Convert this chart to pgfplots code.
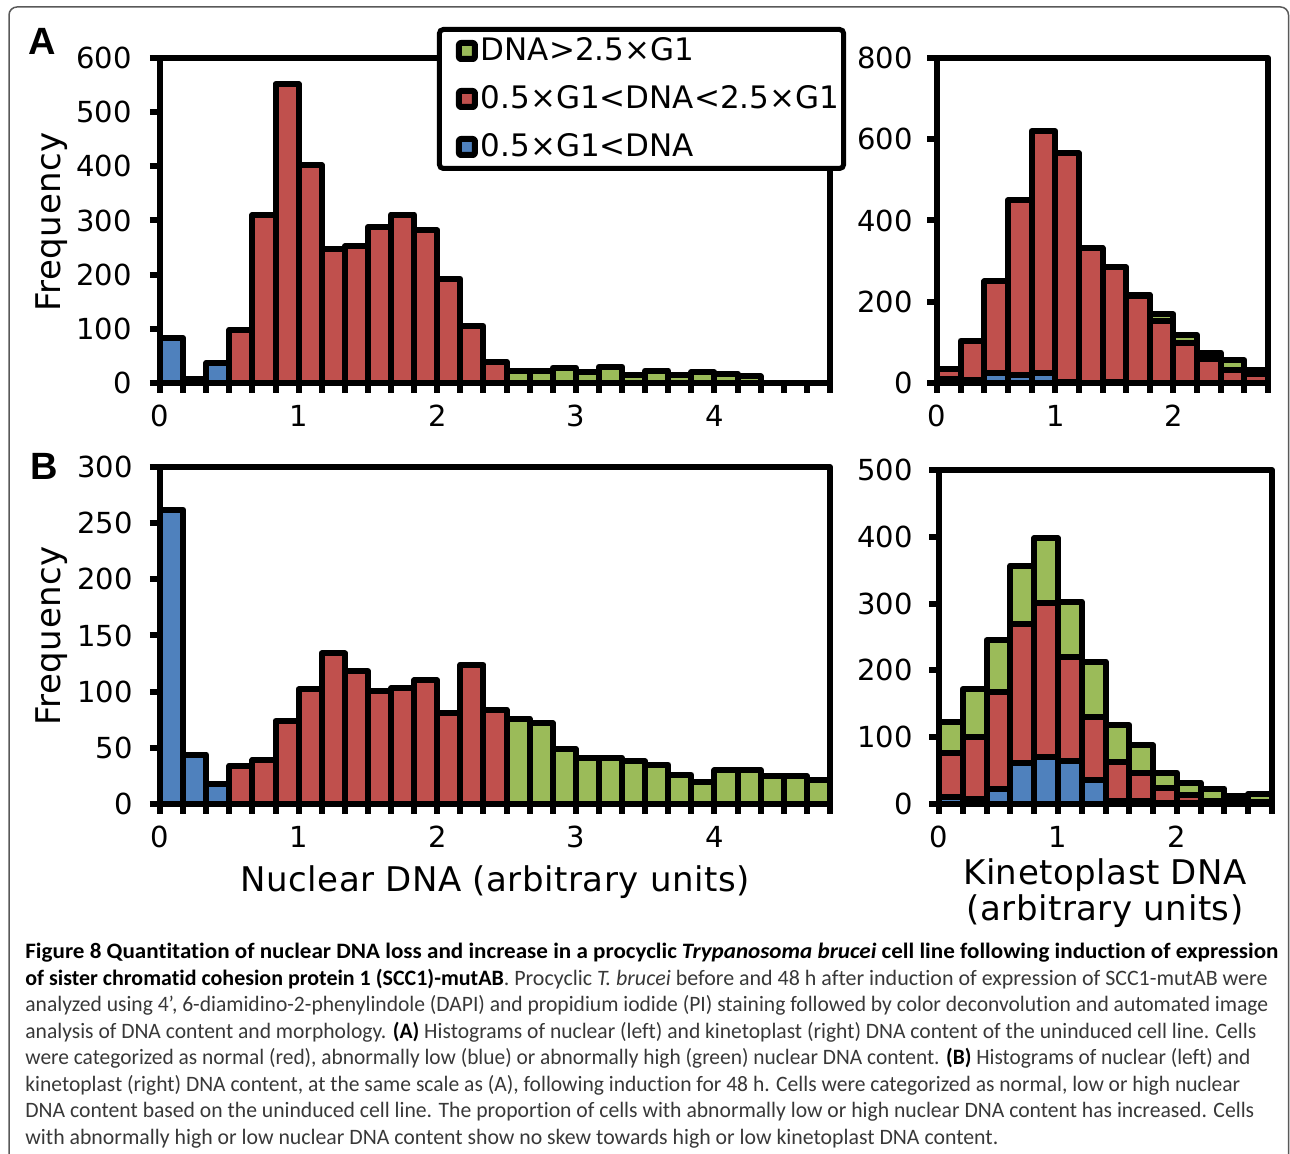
\documentclass[border=0pt]{standalone}
\usepackage{fontspec}
\usepackage{graphicx}
\usepackage{pgfplots}
\usepackage{pgfplotstable}
\pgfplotsset{compat=1.18}
\newfontfamily\dv{DejaVu Sans}
\newfontfamily\dvt{DejaVu Sans}[LetterSpace=1.5]
\newfontfamily\lsb{Liberation Sans}
\newfontfamily\capf{Carlito}[Ligatures=NoCommon]
\definecolor{myblue}{HTML}{4F81BD}
\definecolor{myred}{HTML}{C0504D}
\definecolor{mygreen}{HTML}{9BBB59}
\definecolor{capgray}{HTML}{383838}
\newcommand\cb[1]{{\color{black}\bfseries #1}}

\pgfplotstableread{
x b r g
0.5 83 0 0
1.5 8 0 0
2.5 37 0 0
3.5 0 98 0
4.5 0 310 0
5.5 0 552 0
6.5 0 402 0
7.5 0 247 0
8.5 0 252 0
9.5 0 288 0
10.5 0 311 0
11.5 0 282 0
12.5 0 192 0
13.5 0 105 0
14.5 0 39 0
15.5 0 0 23
16.5 0 0 23
17.5 0 0 28
18.5 0 0 20
19.5 0 0 30
20.5 0 0 15
21.5 0 0 23
22.5 0 0 15
23.5 0 0 20
24.5 0 0 17
25.5 0 0 12
26.5 0 0 0
27.5 0 0 0
28.5 0 0 0
}\tabAL

\pgfplotstableread{
x b r g
0.5 10 24 0
1.5 8 96 0
2.5 25 225 0
3.5 20 430 0
4.5 25 595 0
5.5 3 563 0
6.5 0 332 0
7.5 3 282 0
8.5 0 214 3
9.5 0 153 16
10.5 0 98 20
11.5 0 58 17
12.5 0 31 25
13.5 0 22 10
}\tabAR

\pgfplotstableread{
x b r g
0.5 262 0 0
1.5 44 0 0
2.5 18 0 0
3.5 0 34 0
4.5 0 39 0
5.5 0 74 0
6.5 0 102 0
7.5 0 134 0
8.5 0 118 0
9.5 0 101 0
10.5 0 103 0
11.5 0 110 0
12.5 0 81 0
13.5 0 124 0
14.5 0 84 0
15.5 0 0 76
16.5 0 0 72
17.5 0 0 49
18.5 0 0 41
19.5 0 0 41
20.5 0 0 38
21.5 0 0 35
22.5 0 0 26
23.5 0 0 20
24.5 0 0 30
25.5 0 0 30
26.5 0 0 25
27.5 0 0 25
28.5 0 0 21
}\tabBL

\pgfplotstableread{
x b r g
0.5 10 66 46
1.5 8 92 72
2.5 22 146 77
3.5 61 208 88
4.5 70 231 97
5.5 64 156 83
6.5 36 94 83
7.5 5 58 55
8.5 5 41 42
9.5 2 22 23
10.5 2 11 19
11.5 0 5 18
12.5 0 4 8
13.5 0 3 12
}\tabBR

\pgfplotsset{
  hist/.style={
    scale only axis, anchor=south west, axis on top,
    ybar stacked, bar width=1, xmin=0, ymin=0, enlargelimits=false,
    axis line style={line width=3pt, line join=round},
    tick style={line width=3pt, black}, tick align=outside, tick pos=left,
    major tick length=5pt, minor tick length=5pt,
    /pgf/number format/assume math mode=true,
    ticklabel style={font=\dv\fontsize{14.5}{17}\selectfont, inner sep=0pt},
    xticklabel style={anchor=north, yshift=-6pt},
    clip=false,
  },
  bl/.style={fill=myblue, draw=black, line width=3pt, line join=round},
  rd/.style={fill=myred, draw=black, line width=3pt, line join=round},
  gr/.style={fill=mygreen, draw=black, line width=3pt, line join=round},
}

\begin{document}
\begin{tikzpicture}[x=1pt,y=1pt]
\path[use as bounding box] (0,0) rectangle (645,577);
\draw[black!65, line width=0.75pt, rounded corners=4pt] (4.5,-20) rectangle (644.25,573.5);

% A left
\begin{axis}[hist, at={(80pt,385.5pt)}, width=335pt, height=162.5pt,
  xmax=29, ymax=600, ytick={0,100,...,600},
  yticklabel style={anchor=east, xshift=-9pt},
  xtick={0,6,12,18,24}, xticklabels={0,1,2,3,4}, minor xtick={0,1,...,29},
  reverse legend,
  legend image code/.code={\path (0pt,0pt); \draw[#1, line width=3pt, rounded corners=1pt] (6pt,-4pt) rectangle (14pt,4pt);},
  legend style={at={(0.417,1.0877)}, anchor=north west, draw=black, line width=2.5pt,
    fill=white, outer sep=0pt, inner xsep=2.25pt, inner ysep=0.75pt, row sep=4pt, column sep=1.5pt,
    font=\dv\fontsize{15.5}{18}\selectfont, rounded corners=2pt,
    nodes={inner sep=0pt, minimum height=20pt, anchor=west}},
]
\addplot[bl] table[x=x,y=b]{\tabAL};
\addplot[rd] table[x=x,y=r]{\tabAL};
\addplot[gr] table[x=x,y=g]{\tabAL};
\legend{0.5×G1<DNA, 0.5×G1<DNA<2.5×G1, DNA>2.5×G1}
\end{axis}

% A right
\begin{axis}[hist, at={(468.5pt,385.5pt)}, width=165.5pt, height=162.5pt,
  xmax=14, ymax=800, ytick={0,200,...,800},
  yticklabel style={anchor=east, xshift=-7pt},
  xtick={0,5,10}, xticklabels={0,1,2}, minor xtick={0,1,...,14}]
\addplot[bl] table[x=x,y=b]{\tabAR};
\addplot[rd] table[x=x,y=r]{\tabAR};
\addplot[gr] table[x=x,y=g]{\tabAR};
\end{axis}

% B left
\begin{axis}[hist, at={(80pt,175pt)}, width=335pt, height=168.5pt,
  xmax=29, ymax=300, ytick={0,50,...,300},
  yticklabel style={anchor=east, xshift=-8.5pt},
  xtick={0,6,12,18,24}, xticklabels={0,1,2,3,4}, minor xtick={0,1,...,29}]
\addplot[bl] table[x=x,y=b]{\tabBL};
\addplot[rd] table[x=x,y=r]{\tabBL};
\addplot[gr] table[x=x,y=g]{\tabBL};
\end{axis}

% B right
\begin{axis}[hist, at={(469.5pt,175pt)}, width=166.5pt, height=167pt,
  xmax=14, ymax=500, ytick={0,100,...,500},
  yticklabel style={anchor=east, xshift=-8pt},
  xtick={0,5,10}, xticklabels={0,1,2}, minor xtick={0,1,...,14}]
\addplot[bl] table[x=x,y=b]{\tabBR};
\addplot[rd] table[x=x,y=r]{\tabBR};
\addplot[gr] table[x=x,y=g]{\tabBR};
\end{axis}

% panel letters and axis titles
\node[anchor=base west, inner sep=0pt, font=\lsb\bfseries\fontsize{19}{22}\selectfont] at (14,549.5) {A};
\node[anchor=base west, inner sep=0pt, font=\lsb\bfseries\fontsize{19}{22}\selectfont] at (15,337) {B};
\node[rotate=90, anchor=base, inner sep=0pt, font=\dvt\fontsize{17}{20}\selectfont] at (30,466) {Frequency};
\node[rotate=90, anchor=base, inner sep=0pt, font=\dvt\fontsize{17}{20}\selectfont] at (30,259) {Frequency};
\node[anchor=base, inner sep=0pt, font=\dvt\fontsize{17}{20}\selectfont] at (247.5,131) {Nuclear DNA (arbitrary units)};
\node[anchor=base, inner sep=0pt, font=\dvt\fontsize{17}{20}\selectfont] at (552.5,134.5) {Kinetoplast DNA};
\node[anchor=base, inner sep=0pt, font=\dvt\fontsize{17}{20}\selectfont] at (552.5,116.5) {(arbitrary units)};

% caption
\begin{scope}[every node/.style={anchor=base west, inner sep=0pt}]
\node at (12.5,97.5) {\resizebox{626.5pt}{\height}{\capf\fontsize{11}{13}\selectfont\color{black}\bfseries Figure 8 Quantitation of nuclear DNA loss and increase in a procyclic \textit{Trypanosoma brucei} cell line following induction of expression}};
\node at (12.5,84.25) {\resizebox{621pt}{\height}{\capf\fontsize{11}{13}\selectfont\color{capgray}\cb{of sister chromatid cohesion protein 1 (SCC1)-mutAB}. Procyclic \textit{T. brucei} before and 48 h after induction of expression of SCC1-mutAB were}};
\node at (12.5,71) {\resizebox{621.5pt}{\height}{\capf\fontsize{11}{13}\selectfont\color{capgray}analyzed using 4’, 6-diamidino-2-phenylindole (DAPI) and propidium iodide (PI) staining followed by color deconvolution and automated image}};
\node at (12.5,57.75) {\resizebox{615.5pt}{\height}{\capf\fontsize{11}{13}\selectfont\color{capgray}analysis of DNA content and morphology. \cb{(A)} Histograms of nuclear (left) and kinetoplast (right) DNA content of the uninduced cell line. Cells}};
\node at (12.5,44.5) {\resizebox{612.5pt}{\height}{\capf\fontsize{11}{13}\selectfont\color{capgray}were categorized as normal (red), abnormally low (blue) or abnormally high (green) nuclear DNA content. \cb{(B)} Histograms of nuclear (left) and}};
\node at (12.5,31.25) {\resizebox{607.5pt}{\height}{\capf\fontsize{11}{13}\selectfont\color{capgray}kinetoplast (right) DNA content, at the same scale as (A), following induction for 48 h. Cells were categorized as normal, low or high nuclear}};
\node at (12.5,18) {\resizebox{614.5pt}{\height}{\capf\fontsize{11}{13}\selectfont\color{capgray}DNA content based on the uninduced cell line. The proportion of cells with abnormally low or high nuclear DNA content has increased. Cells}};
\node at (12.5,4.75) {\resizebox{486.5pt}{\height}{\capf\fontsize{11}{13}\selectfont\color{capgray}with abnormally high or low nuclear DNA content show no skew towards high or low kinetoplast DNA content.}};
\end{scope}
\end{tikzpicture}
\end{document}
